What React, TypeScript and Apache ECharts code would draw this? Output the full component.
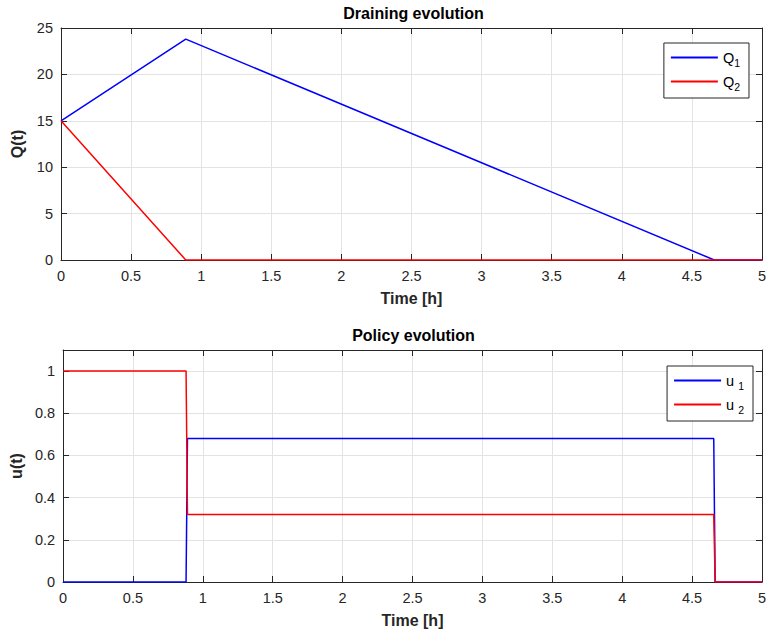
import React, { useEffect, useRef } from "react";
import * as echarts from "echarts";

const xTicks = [0, 0.5, 1, 1.5, 2, 2.5, 3, 3.5, 4, 4.5, 5];
const q1Data: [number, number][] = [[0, 15], [0.89, 23.8], [4.66, 0], [5, 0]];
const q2Data: [number, number][] = [[0, 15], [0.89, 0], [5, 0]];
const u1Data: [number, number][] = [[0, 0], [0.88, 0], [0.89, 0.68], [4.655, 0.68], [4.665, 0], [5, 0]];
const u2Data: [number, number][] = [[0, 1], [0.88, 1], [0.89, 0.32], [4.655, 0.32], [4.665, 0], [5, 0]];
const titles = ["Draining evolution", "Policy evolution"];

const FONT = "Liberation Sans, Arial, Helvetica, sans-serif";
const AXIS_COLOR = "#262626";
const GRID_COLOR = "#e3e3e3";

export default function App() {
  const ref = useRef<HTMLDivElement>(null);
  useEffect(() => {
    document.body.style.margin = "0";
    const chart = echarts.init(ref.current!, null, { renderer: "svg" });
    const L = 61, W = 701, H = 232;
    const tops = [28, 350];
    const baseX = (gi: number) => ({
      type: "value",
      gridIndex: gi,
      min: xTicks[0],
      max: xTicks[xTicks.length - 1],
      interval: xTicks[1] - xTicks[0],
      name: "Time [h]",
      nameLocation: "middle",
      nameGap: 30,
      nameTextStyle: { fontFamily: FONT, fontWeight: "bold", fontSize: 16, color: AXIS_COLOR },
      axisLine: { show: true, onZero: false, lineStyle: { color: AXIS_COLOR, width: 1 } },
      axisTick: { show: true, inside: true, length: 6, lineStyle: { color: AXIS_COLOR } },
      axisLabel: { fontFamily: FONT, fontSize: 14.5, color: AXIS_COLOR, margin: 8 },
      splitLine: { show: true, lineStyle: { color: GRID_COLOR, width: 1 } },
    });
    const topX = (gi: number) => ({
      type: "value",
      gridIndex: gi,
      position: "top",
      min: xTicks[0],
      max: xTicks[xTicks.length - 1],
      interval: xTicks[1] - xTicks[0],
      axisLine: { show: true, onZero: false, lineStyle: { color: AXIS_COLOR, width: 1 } },
      axisTick: { show: true, inside: true, length: 6, lineStyle: { color: AXIS_COLOR } },
      axisLabel: { show: false },
      splitLine: { show: false },
    });
    const leftY = (gi: number, max: number, interval: number, name: string) => ({
      type: "value",
      gridIndex: gi,
      min: 0,
      max,
      interval,
      name,
      nameLocation: "middle",
      nameGap: 31,
      nameTextStyle: { fontFamily: FONT, fontWeight: "bold", fontSize: 16, color: AXIS_COLOR },
      axisLine: { show: true, onZero: false, lineStyle: { color: AXIS_COLOR, width: 1 } },
      axisTick: { show: true, inside: true, length: 6, lineStyle: { color: AXIS_COLOR } },
      axisLabel: { fontFamily: FONT, fontSize: 14.5, color: AXIS_COLOR, margin: 8, showMaxLabel: max === 25 },
      splitLine: { show: true, lineStyle: { color: GRID_COLOR, width: 1 } },
    });
    const rightY = (gi: number, max: number, interval: number) => ({
      type: "value",
      gridIndex: gi,
      position: "right",
      min: 0,
      max,
      interval,
      axisLine: { show: true, onZero: false, lineStyle: { color: AXIS_COLOR, width: 1 } },
      axisTick: { show: true, inside: true, length: 6, lineStyle: { color: AXIS_COLOR } },
      axisLabel: { show: false },
      splitLine: { show: false },
    });
    const line = (name: string, data: [number, number][], color: string, gi: number) => ({
      name,
      type: "line",
      xAxisIndex: gi * 2,
      yAxisIndex: gi * 2,
      data,
      showSymbol: false,
      symbol: "none",
      lineStyle: { color, width: 1.5 },
      itemStyle: { color },
      z: 3,
    });
    const legendBase = {
      orient: "vertical",
      backgroundColor: "#ffffff",
      borderColor: AXIS_COLOR,
      borderWidth: 1,
      borderRadius: 0,
      icon: "rect",
      itemWidth: 47,
      itemHeight: 2,
      itemGap: 6,
      padding: [7, 9, 6, 7],
      textStyle: {
        fontFamily: FONT,
        fontSize: 14.5,
        color: "#000",
        rich: {
          m: { fontFamily: FONT, fontSize: 14.5, color: "#000" },
          s: { fontFamily: FONT, fontSize: 10.5, color: "#000", padding: [10, 0, 0, 0] },
        },
      },
      formatter: (n: string) => {
        const base = n[0];
        const sub = n.slice(1);
        return base === "u" ? `{m|u }{s|${sub}}` : `{m|${base}}{s|${sub}}`;
      },
    };
    chart.setOption({
      animation: false,
      grid: tops.map((t) => ({ left: L, top: t, width: W, height: H, containLabel: false })),
      xAxis: [baseX(0), topX(0), baseX(1), topX(1)],
      yAxis: [leftY(0, 25, 5, "Q(t)"), rightY(0, 25, 5), leftY(1, 1.1, 0.2, "u(t)"), rightY(1, 1.1, 0.2)],
      legend: [
        { ...legendBase, data: ["Q1", "Q2"], right: 20, top: 43 },
        { ...legendBase, data: ["u1", "u2"], right: 16, top: 366 },
      ],
      series: [
        line("Q1", q1Data, "#0000ff", 0),
        line("Q2", q2Data, "#ff0000", 0),
        line("u1", u1Data, "#0000ff", 1),
        line("u2", u2Data, "#ff0000", 1),
      ],
      graphic: titles.map((t, i) => ({
        type: "text",
        x: L + W / 2 + 2,
        y: tops[i] - 15,
        style: {
          text: t,
          textAlign: "center",
          textVerticalAlign: "middle",
          fontFamily: FONT,
          fontWeight: "bold",
          fontSize: 16,
          fill: "#000",
        },
      })),
    });
    return () => chart.dispose();
  }, []);
  return <div ref={ref} style={{ width: 769, height: 640 }} />;
}
